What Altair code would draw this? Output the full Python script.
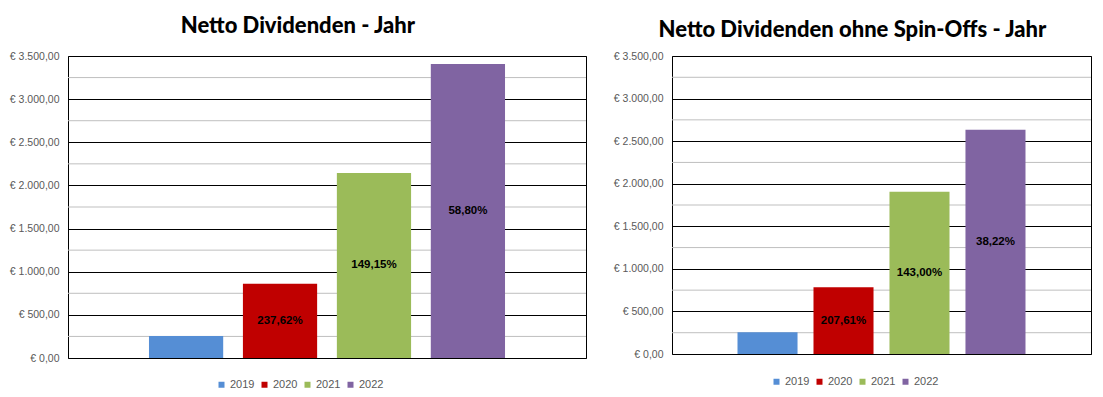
import altair as alt
import pandas as pd

years = ["2019", "2020", "2021", "2022"]
colors = ["#558ED5", "#C00000", "#9BBB59", "#8064A2"]

values_total = [255, 861, 2145, 3406]
labels_total = ["", "237,62%", "149,15%", "58,80%"]

values_ex = [255, 784, 1905, 2633]
labels_ex = ["", "207,61%", "143,00%", "38,22%"]

major_ticks = [0, 500, 1000, 1500, 2000, 2500, 3000, 3500]
minor_ticks = [250, 750, 1250, 1750, 2250, 2750, 3250]

label_expr = ("'€ ' + replace(replace(replace(format(datum.value, ',.2f'), ',', '#'), '.', ','), '#', '.')")


def panel(title, values, labels, width, height, legend_x, legend_y, title_offset):
    df = pd.DataFrame({"year": years, "value": values, "label": labels})
    minor = pd.DataFrame({"v": minor_ticks})
    yscale = alt.Scale(domain=[0, 3500], nice=False)
    xscale = alt.Scale(domain=years, paddingInner=0.21, paddingOuter=0.862)
    yaxis = alt.Axis(
        values=major_ticks,
        labelExpr=label_expr,
        grid=True,
        gridColor="black",
        gridWidth=1,
        gridOpacity=1,
        domain=False,
        ticks=False,
        labelPadding=9,
        title=None,
        labelFont="Liberation Sans",
        labelFontSize=10.5,
        labelColor="#595959",
    )

    grid = alt.Chart(minor).mark_rule(color="#BFBFBF", strokeWidth=1).encode(
        y=alt.Y("v:Q", scale=yscale, axis=yaxis)
    )
    bars = alt.Chart(df).mark_bar().encode(
        x=alt.X("year:N", scale=xscale, axis=None),
        y=alt.Y("value:Q", scale=yscale, axis=yaxis),
        color=alt.Color(
            "year:N",
            scale=alt.Scale(domain=years, range=colors),
            legend=alt.Legend(
                title=None,
                orient="none",
                direction="horizontal",
                legendX=legend_x,
                legendY=legend_y,
                symbolType="square",
                symbolSize=36,
                symbolStrokeWidth=0,
                symbolOpacity=1,
                labelFont="Liberation Sans",
                labelFontSize=11,
                labelColor="#595959",
                columnPadding=4,
                labelOffset=3,
            ),
        ),
    )
    text = (
        alt.Chart(df)
        .transform_filter("datum.label != ''")
        .transform_calculate(mid="datum.value / 2")
        .mark_text(font="Liberation Sans", fontSize=11.5, fontWeight="bold", color="black")
        .encode(
            x=alt.X("year:N", scale=xscale, axis=None),
            y=alt.Y("mid:Q", scale=yscale, axis=yaxis),
            text="label:N",
        )
    )
    return alt.layer(grid, bars, text).properties(
        width=width,
        height=height,
        title=alt.TitleParams(
            text=title,
            font="Lato",
            fontSize=22,
            fontWeight=900,
            color="black",
            anchor="middle",
            frame="bounds",
            offset=title_offset,
        ),
    )


left = panel("Netto Dividenden - Jahr", values_total, labels_total, 518, 302, 148, 323, 13)
right = panel("Netto Dividenden ohne Spin-Offs - Jahr", values_ex, labels_ex, 419, 298, 99, 320, 9)

chart = (
    alt.hconcat(left, right, spacing=25)
    .resolve_scale(x="independent", y="independent", color="independent")
    .resolve_legend(color="independent")
    .properties(padding={"left": 0, "top": 6, "right": 0, "bottom": 0}, background="white")
    .configure_view(stroke="black", strokeWidth=1)
)

chart.save("out.html", embed_options={"renderer": "svg", "actions": False})
